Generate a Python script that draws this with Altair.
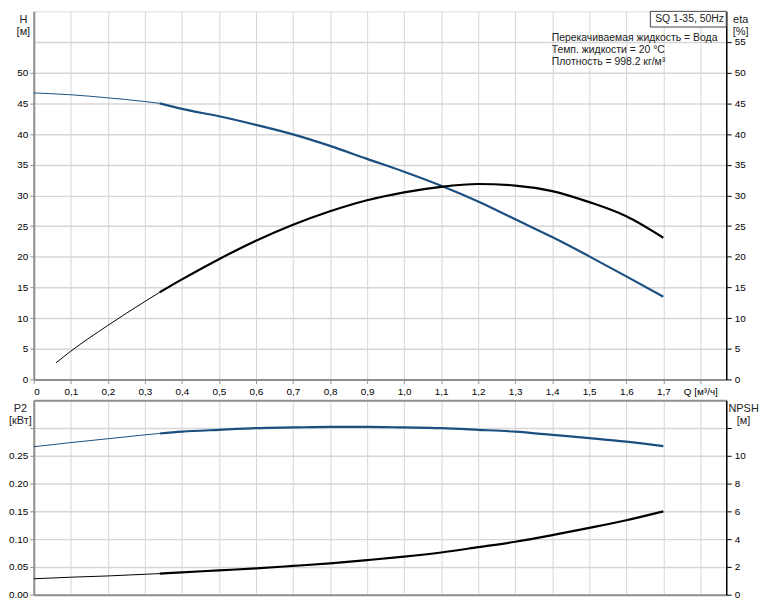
import altair as alt
import pandas as pd

# ---------------- data ----------------
q_top_h = [0.0, 0.1, 0.2, 0.3, 0.34, 0.4, 0.5, 0.6, 0.7, 0.8, 0.9, 1.0, 1.1, 1.2, 1.3, 1.4, 1.5, 1.6, 1.7]
h_m = [46.7, 46.4, 45.9, 45.3, 45.0, 44.1, 42.9, 41.5, 39.95, 38.07, 35.95, 33.85, 31.57, 29.0, 26.1, 23.2, 20.06, 16.8, 13.47]

q_top_eta = [0.06, 0.1, 0.2, 0.3, 0.34, 0.4, 0.5, 0.6, 0.7, 0.8, 0.9, 1.0, 1.1, 1.2, 1.3, 1.4, 1.5, 1.6, 1.7]
eta_pct = [2.7, 4.6, 8.8, 12.7, 14.2, 16.3, 19.6, 22.6, 25.2, 27.4, 29.2, 30.5, 31.4, 31.85, 31.6, 30.7, 28.9, 26.6, 23.1]

q_low = [0.0, 0.1, 0.2, 0.3, 0.34, 0.4, 0.5, 0.6, 0.7, 0.8, 0.9, 1.0, 1.1, 1.2, 1.3, 1.4, 1.5, 1.6, 1.7]
p2_kw = [0.2663, 0.2738, 0.2807, 0.2877, 0.2902, 0.2934, 0.2968, 0.2998, 0.3010, 0.3020, 0.3020, 0.3010, 0.2998,
         0.2968, 0.2934, 0.2877, 0.2819, 0.2755, 0.2674]
npsh_m = [1.146, 1.26, 1.35, 1.47, 1.52, 1.61, 1.75, 1.89, 2.07, 2.26, 2.49, 2.74, 3.04, 3.42, 3.81, 4.29, 4.81, 5.36, 6.0]

x_ticks = [0.0, 0.1, 0.2, 0.3, 0.4, 0.5, 0.6, 0.7, 0.8, 0.9, 1.0, 1.1, 1.2, 1.3, 1.4, 1.5, 1.6, 1.7, 1.8]
h_ticks = [0, 5, 10, 15, 20, 25, 30, 35, 40, 45, 50]
eta_ticks = [0, 5, 10, 15, 20, 25, 30, 35, 40, 45, 50, 55]
p2_ticks = [0.0, 0.05, 0.10, 0.15, 0.20, 0.25, 0.30]
npsh_ticks = [0, 2, 4, 6, 8, 10, 12]

info_lines = ["Перекачиваемая жидкость = Вода", "Темп. жидкости = 20 °C", "Плотность = 998.2 кг/м³"]
info_y = [55.6, 53.7, 51.8]
title_box_text = "SQ 1-35, 50Hz"

SPLIT = 0.34
Q_MAX = 1.87

# ---------------- styling ----------------
FONT = "Liberation Sans"
FS = 10
BLUE = "#1b4f80"
GRID = "#d6d6d6"
GREY_AX = "#8f8f8f"
TXT = "#222222"
W = 698
H_TOP = 371
H_BOT = 196
INFO_LEFT_Q = Q_MAX * (1 - 176.0 / W)   # info block starts ~176 px left of the right axis


def frame(q, v):
    rows = []
    for qi, vi in zip(q, v):
        if qi <= SPLIT:
            rows.append({"Q": qi, "v": vi, "seg": "thin"})
        if qi >= SPLIT:
            rows.append({"Q": qi, "v": vi, "seg": "thick"})
    return pd.DataFrame(rows)


xscale = alt.Scale(domain=[0, Q_MAX], nice=False, zero=False)

top_x_axis = alt.Axis(
    values=x_ticks,
    labelExpr="datum.value == 0 ? '0' : (datum.value > 1.75 ? 'Q [м³/ч]' : replace(format(datum.value, '.1f'), '.', ','))",
    grid=True, gridColor=GRID, gridWidth=1,
    domainColor=GREY_AX, domainWidth=2, tickColor=GREY_AX, tickSize=4,
    labelPadding=3, title=None,
)
bot_x_axis = alt.Axis(
    values=x_ticks, labels=False, ticks=False,
    grid=True, gridColor=GRID, gridWidth=1,
    domainColor=GREY_AX, domainWidth=2, title=None,
)
bot_x_top_axis = alt.Axis(
    orient="top", values=x_ticks, labels=False, ticks=False, grid=False,
    domainColor=GREY_AX, domainWidth=2, title=None,
)

sw = alt.StrokeWidth("seg:N", scale=alt.Scale(domain=["thin", "thick"], range=[1, 2.2]), legend=None)


def title_props(tx):
    return dict(titleAngle=0, titleX=tx, titleY=2, titleAlign="center", titleBaseline="top",
                titleFontWeight="normal", titleFontSize=FS + 1, titleFont=FONT, titleColor=TXT,
                titleLineHeight=12)


# ---------------- top panel ----------------
h_line = alt.Chart(frame(q_top_h, h_m)).mark_line(color=BLUE, interpolate="monotone").encode(
    x=alt.X("Q:Q", scale=xscale, axis=top_x_axis),
    y=alt.Y("v:Q", scale=alt.Scale(domain=[0, 60], nice=False),
            axis=alt.Axis(orient="left", values=h_ticks, grid=False, domainColor=GREY_AX, domainWidth=2,
                          tickColor=GREY_AX, tickSize=4, labelPadding=2,
                          title=["H", "[м]"], **title_props(-11))),
    detail="seg:N", strokeWidth=sw,
)
eta_line = alt.Chart(frame(q_top_eta, eta_pct)).mark_line(color="black", interpolate="monotone").encode(
    x=alt.X("Q:Q", scale=xscale, axis=top_x_axis),
    y=alt.Y("v:Q", scale=alt.Scale(domain=[0, 60], nice=False),
            axis=alt.Axis(orient="right", values=eta_ticks, grid=True, gridColor=GRID, gridWidth=1.5,
                          domainColor="black", domainWidth=1.5, tickColor="black", tickSize=5,
                          labelPadding=3, title=["eta", "[%]"], **title_props(14))),
    detail="seg:N", strokeWidth=sw,
)

box_df = pd.DataFrame({"q1": [1.665], "q2": [Q_MAX], "y1": [57.45], "y2": [60.0]})
box = alt.Chart(box_df).mark_rect(fill="white", stroke="#444444", strokeWidth=1).encode(
    x=alt.X("q1:Q", scale=xscale, axis=top_x_axis), x2="q2",
    y=alt.Y("y1:Q", scale=alt.Scale(domain=[0, 60], nice=False), axis=None), y2="y2",
)
box_text = alt.Chart(pd.DataFrame({"Q": [1.678], "y": [58.7], "t": [title_box_text]})).mark_text(
    align="left", baseline="middle", font=FONT, fontSize=FS + 0.5, color=TXT
).encode(
    x=alt.X("Q:Q", scale=xscale, axis=top_x_axis),
    y=alt.Y("y:Q", scale=alt.Scale(domain=[0, 60], nice=False), axis=None),
    text="t:N",
)
info = alt.Chart(pd.DataFrame({"Q": [INFO_LEFT_Q] * 3, "y": info_y, "t": info_lines})).mark_text(
    align="left", baseline="middle", font=FONT, fontSize=FS + 0.5, color=TXT
).encode(
    x=alt.X("Q:Q", scale=xscale, axis=top_x_axis),
    y=alt.Y("y:Q", scale=alt.Scale(domain=[0, 60], nice=False), axis=None),
    text="t:N",
)
annot = alt.layer(box, box_text, info)

top = alt.layer(h_line, eta_line, annot).resolve_scale(y="independent").properties(width=W, height=H_TOP)

# ---------------- bottom panel ----------------
p2_line = alt.Chart(frame(q_low, p2_kw)).mark_line(color=BLUE, interpolate="monotone").encode(
    x=alt.X("Q:Q", scale=xscale, axis=bot_x_axis),
    y=alt.Y("v:Q", scale=alt.Scale(domain=[0, 0.35], nice=False),
            axis=alt.Axis(orient="left", values=p2_ticks, grid=True, gridColor=GRID, gridWidth=1.5,
                          labelExpr="datum.value > 0.29 ? '' : format(datum.value, '.2f')",
                          domainColor=GREY_AX, domainWidth=2, tickColor=GREY_AX, tickSize=4,
                          labelPadding=2, title=["P2", "[кВт]"], **title_props(-14))),
    detail="seg:N", strokeWidth=sw,
)
npsh_line = alt.Chart(frame(q_low, npsh_m)).mark_line(color="black", interpolate="monotone").encode(
    x=alt.X("Q:Q", scale=xscale, axis=bot_x_top_axis),
    y=alt.Y("v:Q", scale=alt.Scale(domain=[0, 14], nice=False),
            axis=alt.Axis(orient="right", values=npsh_ticks, grid=False,
                          labelExpr="datum.value > 11 ? '' : datum.label",
                          domainColor="black", domainWidth=1.5, tickColor="black", tickSize=5,
                          labelPadding=3, title=["NPSH", "[м]"], **title_props(17))),
    detail="seg:N", strokeWidth=sw,
)
bottom = alt.layer(p2_line, npsh_line).resolve_scale(y="independent").resolve_axis(x="independent").properties(
    width=W, height=H_BOT)

chart = alt.vconcat(top, bottom, spacing=2).properties(padding=0).configure_view(stroke=None).configure_axis(
    labelFont=FONT, labelFontSize=FS + 1, labelColor=TXT,
).configure(font=FONT, background="white")

chart.save("out.html", embed_options={"renderer": "svg", "actions": False})
